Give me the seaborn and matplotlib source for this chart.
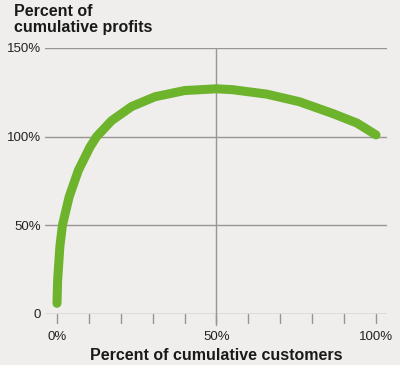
import numpy as np
import pandas as pd
import seaborn as sns
import matplotlib.pyplot as plt

# values
customers_pct = [0, 0.2, 0.9, 1.7, 3.8, 6.7, 10.3, 12.4, 17.1, 23.4, 30.7, 40,
                 50, 55, 65.7, 76, 86.5, 94, 100]
profits_pct = [6, 19, 38, 50, 66, 81, 94, 100, 109, 117, 122.5, 126,
               127, 126.5, 124, 119.7, 113, 107.7, 101]
y_ticks = [0, 50, 100, 150]
y_labels = ["0", "50%", "100%", "150%"]
x_ticks = [0, 50, 100]
x_labels = ["0%", "50%", "100%"]

bg = "#efeeec"
grid_col = "#9a9494"
sns.set_style("white", {"axes.facecolor": bg, "figure.facecolor": bg})
plt.rcParams["font.family"] = ["Liberation Sans", "DejaVu Sans"]

df = pd.DataFrame({"customers": customers_pct, "profits": profits_pct})

fig = plt.figure(figsize=(4, 3.65), dpi=100)
ax = fig.add_axes([45 / 400, (365 - 314) / 365, 342 / 400, 266 / 365])

# grid lines
for v in y_ticks:
    ax.axhline(v, color=grid_col, lw=1.0, zorder=1)
ax.plot([50, 50], [-6, 150], color=grid_col, lw=1.0, zorder=1, clip_on=False)
for t in range(0, 101, 10):
    ax.plot([t, t], [0, -5.2], color=grid_col, lw=1.0, clip_on=False, zorder=1)

sns.lineplot(data=df, x="customers", y="profits", ax=ax, color="#6db32c",
             lw=6.5, solid_capstyle="round", solid_joinstyle="round", zorder=3)

ax.set_xlim(-3.76, 103.45)
ax.set_ylim(0, 150)
for s in ax.spines.values():
    s.set_visible(False)

ax.set_yticks(y_ticks)
ax.set_yticklabels(y_labels, fontsize=9.5, color="#222222")
ax.set_xticks(x_ticks)
ax.set_xticklabels(x_labels, fontsize=9.5, color="#222222")
ax.tick_params(axis="y", length=0, pad=3)
ax.tick_params(axis="x", length=0, pad=12)

ax.set_xlabel("Percent of cumulative customers", fontsize=11.5, fontweight="bold",
              color="#1a1a1a", labelpad=4)
ax.set_ylabel("")
fig.text(14 / 400, 1 - 4 / 365, "Percent of\ncumulative profits", fontsize=11.5,
         fontweight="bold", color="#1a1a1a", va="top", ha="left", linespacing=1.1)

fig.savefig("out.png", dpi=100, facecolor=bg)
